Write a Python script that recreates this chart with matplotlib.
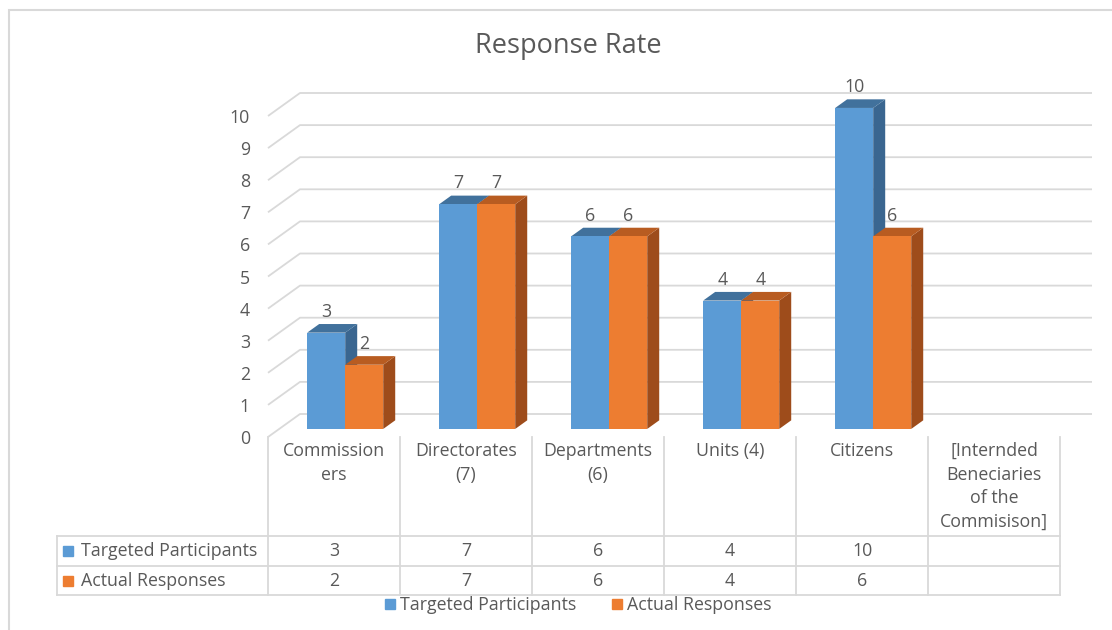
import matplotlib.pyplot as plt
from matplotlib.patches import Polygon, Rectangle
from matplotlib.lines import Line2D
from matplotlib import transforms

plt.rcParams['font.family'] = ['Open Sans', 'DejaVu Sans']

# Chart data
categories = ["Commission\ners", "Directorates\n(7)", "Departments\n(6)", "Units (4)", "Citizens",
              "[Internded\nBeneciaries\nof the\nCommisison]"]
series_names = ["Targeted Participants", "Actual Responses"]
targeted = [3, 7, 6, 4, 10, None]
actual = [2, 7, 6, 4, 6, None]
yticks = list(range(0, 11))

TEXT = "#595959"
GRID = "#d9d9d9"
FRONT = ["#5b9bd5", "#ed7d31"]
TOP = ["#41719c", "#b85c21"]
SIDE = ["#3a6690", "#9e4c1b"]
FS = 12.8

W, H = 1112, 630
fig = plt.figure(figsize=(W / 100, H / 100), dpi=100)
ax = fig.add_axes([268 / W, 1 - 437 / H, 792 / W, 321 / H])
ncat = len(categories)
ax.set_xlim(0, ncat)
ax.set_ylim(0, 10)
for s in ax.spines.values():
    s.set_visible(False)
ax.set_xticks([])
ax.set_yticks(yticks)
ax.tick_params(length=0, pad=13, labelsize=FS, labelcolor=TEXT)

# depth of the floor in data units, and where the bars sit inside it
DX, DY = 32 / 132, 23 / 32.1
f0, f1 = 0.35, 0.725
bw = 0.288

# back wall gridlines with their diagonal on the left side
for v in yticks:
    ax.plot([0, DX, ncat + DX], [v, v + DY, v + DY], color=GRID, lw=1.3,
            clip_on=False, zorder=1, solid_capstyle='butt')


def bar3d(x0, h, k):
    ox, oy = f0 * DX, f0 * DY
    ddx, ddy = (f1 - f0) * DX, (f1 - f0) * DY
    xl, xr = x0 + ox, x0 + ox + bw
    side = [(xr, oy), (xr + ddx, oy + ddy), (xr + ddx, oy + ddy + h), (xr, oy + h)]
    top = [(xl, oy + h), (xl + ddx, oy + h + ddy), (xr + ddx, oy + h + ddy), (xr, oy + h)]
    ax.add_patch(Polygon(side, closed=True, fc=SIDE[k], ec='none', zorder=3, clip_on=False))
    ax.add_patch(Polygon(top, closed=True, fc=TOP[k], ec='none', zorder=3, clip_on=False))
    ax.add_patch(Rectangle((xl, oy), bw, h, fc=FRONT[k], ec='none', zorder=3, clip_on=False))
    ax.annotate(str(h), ((xl + xr) / 2, oy + h), xytext=(0, 15), textcoords='offset points',
                ha='center', va='center', fontsize=FS, color=TEXT, zorder=5,
                annotation_clip=False)


for i in range(ncat):
    for k, vals in enumerate([targeted, actual]):
        if vals[i] is None:
            continue
        bar3d(i + 0.5 - bw + k * bw, vals[i], k)

# data table under the plot
tr = transforms.blended_transform_factory(ax.transData, fig.transFigure)
yf = lambda py: 1 - py / H
x_left = (57 - 268) / 132
row_lines = [536, 566, 595]
for py in row_lines:
    ax.plot([x_left, ncat], [yf(py)] * 2, transform=tr, color=GRID, lw=1.3, clip_on=False)
for i in range(ncat + 1):
    ax.plot([i, i], [yf(437), yf(595)], transform=tr, color=GRID, lw=1.3, clip_on=False)
ax.plot([x_left, x_left], [yf(536), yf(595)], transform=tr, color=GRID, lw=1.3, clip_on=False)

for i, name in enumerate(categories):
    ax.text(i + 0.5, yf(442), name, transform=tr, ha='center', va='top', fontsize=FS,
            color=TEXT, linespacing=1.4)

for r, (name, vals) in enumerate(zip(series_names, [targeted, actual])):
    yc = yf((row_lines[r] + row_lines[r + 1]) / 2)
    ax.plot([(68 - 268) / 132], [yc], transform=tr, marker='s', ms=7, color=FRONT[r],
            ls='', clip_on=False)
    ax.text((81 - 268) / 132, yc, name, transform=tr, ha='left', va='center',
            fontsize=FS, color=TEXT)
    for i, v in enumerate(vals):
        if v is not None:
            ax.text(i + 0.5, yc, str(v), transform=tr, ha='center', va='center',
                    fontsize=FS, color=TEXT)

handles = [Line2D([], [], marker='s', ls='', ms=7, color=c) for c in FRONT]
leg = fig.legend(handles, series_names, loc='center', bbox_to_anchor=(576 / W, 1 - 605 / H),
                 ncol=2, frameon=False, fontsize=FS, handletextpad=0.05, columnspacing=1.8,
                 handlelength=1.0, borderpad=0)
for t in leg.get_texts():
    t.set_color(TEXT)

fig.text(568 / W, 1 - 46 / H, "Response Rate", ha='center', va='center', fontsize=19.5, color=TEXT)

fig.add_artist(Rectangle((9 / W, -0.1), 1.2, 1.1 - 10 / H, transform=fig.transFigure,
                         fill=False, ec=GRID, lw=1.5))

fig.savefig("out.png", dpi=100, facecolor='white')
